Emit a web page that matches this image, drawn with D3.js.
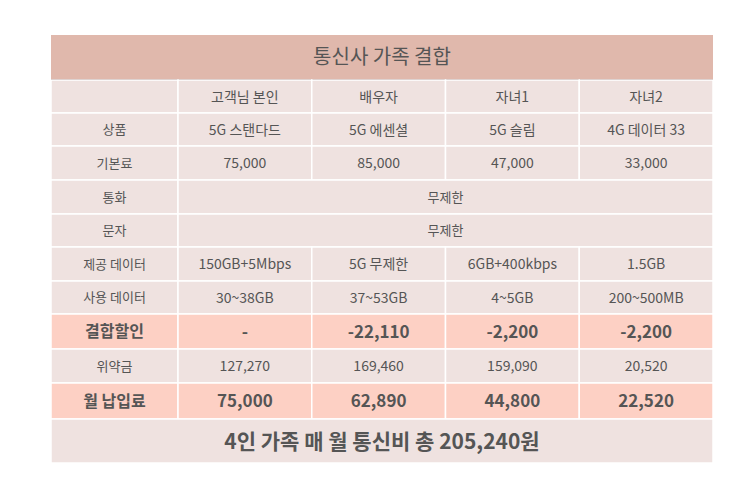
<!DOCTYPE html>
<html><head><meta charset="utf-8">
<script src="https://cdn.jsdelivr.net/npm/d3@7"></script>
<style>body{margin:0;background:#fff}text{font-family:"Noto Sans CJK KR","Noto Sans",sans-serif;fill:#555}</style>
</head><body><div id="chart"></div>
<script>
const title = "통신사 가족 결합";
const members = ["고객님 본인", "배우자", "자녀1", "자녀2"];
const rowLabels = ["", "상품", "기본료", "통화", "문자", "제공 데이터", "사용 데이터", "결합할인", "위약금", "월 납입료"];
const plans = ["5G 스탠다드", "5G 에센셜", "5G 슬림", "4G 데이터 33"];
const baseFee = ["75,000", "85,000", "47,000", "33,000"];
const dataGiven = ["150GB+5Mbps", "5G 무제한", "6GB+400kbps", "1.5GB"];
const dataUsed = ["30~38GB", "37~53GB", "4~5GB", "200~500MB"];
const discount = ["-", "-22,110", "-2,200", "-2,200"];
const penalty = ["127,270", "169,460", "159,090", "20,520"];
const monthly = ["75,000", "62,890", "44,800", "22,520"];
const total = "4인 가족 매 월 통신비 총 205,240원";

const rowValues = [members, plans, baseFee, ["무제한"], ["무제한"], dataGiven, dataUsed, discount, penalty, monthly];
const bold = [false, false, false, false, false, false, false, true, false, true];
const rowH = [33, 33, 34, 34, 33, 34, 33, 35, 34, 36];

const svg = d3.select("#chart").append("svg").attr("width", 750).attr("height", 494);
const x0 = 51, x1 = 713, labelW = 127;
const colX = d3.scaleBand().domain(d3.range(4)).range([x0 + labelW, x1]);
const edges = [80]; rowH.forEach(h => edges.push(edges[edges.length - 1] + h));

// title
svg.append("rect").attr("x", x0).attr("y", 35).attr("width", x1 - x0).attr("height", 44).attr("fill", "#e0b8ac");
svg.append("line").attr("x1", x0).attr("x2", x1).attr("y1", 79.5).attr("y2", 79.5).attr("stroke", "#7a4a40").attr("stroke-width", 1.2);
svg.append("text").attr("x", (x0 + x1) / 2).attr("y", 57).attr("dy", "0.36em").attr("text-anchor", "middle")
  .attr("font-size", 20).text(title);

rowLabels.forEach((lab, i) => {
  const y = edges[i], h = rowH[i], fill = bold[i] ? "#fdd0c4" : "#efe2e0";
  const g = svg.append("g");
  const fs = bold[i] ? 16 : 13, fw = bold[i] ? 700 : 400;
  g.append("rect").attr("x", x0).attr("y", y).attr("width", labelW).attr("height", h)
    .attr("fill", fill).attr("stroke", "#fff").attr("stroke-width", 1.5);
  g.append("text").attr("x", x0 + labelW / 2).attr("y", y + h / 2).attr("dy", "0.36em").attr("text-anchor", "middle")
    .attr("font-size", fs).attr("font-weight", fw).text(lab);
  const vals = rowValues[i];
  if (vals.length === 1) {
    g.append("rect").attr("x", x0 + labelW).attr("y", y).attr("width", x1 - x0 - labelW).attr("height", h)
      .attr("fill", fill).attr("stroke", "#fff").attr("stroke-width", 1.5);
    g.append("text").attr("x", (x0 + labelW + x1) / 2).attr("y", y + h / 2).attr("dy", "0.36em").attr("text-anchor", "middle")
      .attr("font-size", fs).text(vals[0]);
  } else {
    vals.forEach((v, j) => {
      g.append("rect").attr("x", colX(j)).attr("y", y).attr("width", colX.bandwidth()).attr("height", h)
        .attr("fill", fill).attr("stroke", "#fff").attr("stroke-width", 1.5);
      g.append("text").attr("x", colX(j) + colX.bandwidth() / 2).attr("y", y + h / 2).attr("dy", "0.36em")
        .attr("text-anchor", "middle").attr("font-size", bold[i] ? 17 : 14).attr("font-weight", fw).text(v);
    });
  }
});

const ty = edges[edges.length - 1];
svg.append("rect").attr("x", x0).attr("y", ty).attr("width", x1 - x0).attr("height", 463 - ty)
  .attr("fill", "#efe2e0").attr("stroke", "#fff").attr("stroke-width", 1.5);
svg.append("text").attr("x", (x0 + x1) / 2).attr("y", (ty + 463) / 2).attr("dy", "0.36em").attr("text-anchor", "middle")
  .attr("font-size", 21).attr("font-weight", 700).text(total);
</script></body></html>
